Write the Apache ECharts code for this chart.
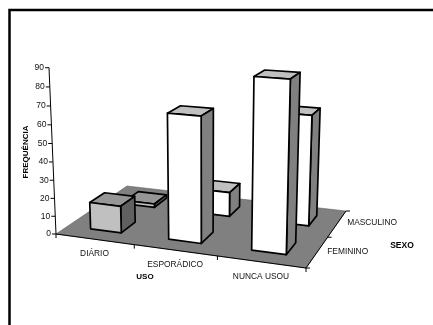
<!DOCTYPE html>
<html>
<head>
<meta charset="utf-8">
<style>html,body{margin:0;padding:0;background:#fff}#chart{width:433px;height:325px}</style>
<script src="https://cdn.jsdelivr.net/npm/echarts@6/dist/echarts.min.js"></script>
</head>
<body>
<div id="chart"></div>
<script>
// Frequency of use by sex, as a 3D column chart on a tilted floor.
const usoCategories = ['DIÁRIO', 'ESPORÁDICO', 'NUNCA USOU'];
const sexoCategories = ['FEMININO', 'MASCULINO'];
const feminino = [15, 68, 90];
const masculino = [2, 14, 62];
const frequencyTicks = [0, 10, 20, 30, 40, 50, 60, 70, 80, 90];

const FONT = '"Liberation Sans", Arial, sans-serif';
const BLACK = '#000';

// Camera: floor corners on screen and the vanishing point of the verticals.
const floorQuad = { fl: [56, 234], fr: [306, 268], br: [346, 211], bl: [127, 186] };
const vanish = [205, 3774];
const axisTop = [49, 68];

const homography = (function () {
  const [x0, y0] = floorQuad.fl, [x1, y1] = floorQuad.fr, [x2, y2] = floorQuad.br, [x3, y3] = floorQuad.bl;
  const dx1 = x1 - x2, dx2 = x3 - x2, sx = x0 - x1 + x2 - x3;
  const dy1 = y1 - y2, dy2 = y3 - y2, sy = y0 - y1 + y2 - y3;
  const den = dx1 * dy2 - dx2 * dy1;
  const g = (sx * dy2 - dx2 * sy) / den, h = (dx1 * sy - sx * dy1) / den;
  return { a: x1 - x0 + g * x1, b: x3 - x0 + h * x3, c: x0, d: y1 - y0 + g * y1, e: y3 - y0 + h * y3, f: y0, g, h };
})();
const heightGain = (axisTop[0] - floorQuad.fl[0]) / (vanish[0] - axisTop[0]);

// u: 0..1 along USO, v: 0..1 along SEXO, t: 0..1 along FREQUÊNCIA.
function project(u, v, t) {
  const H = homography, k = t * heightGain;
  const w = H.g * u + H.h * v + 1 + k;
  return [(H.a * u + H.b * v + H.c + k * vanish[0]) / w, (H.d * u + H.e * v + H.f + k * vanish[1]) / w];
}

// The hidden grid spans the frequency axis, so its scale gives the height fraction.
const GRID = { left: 60, top: 68, width: 240, height: 166 };
function heightFraction(api, value) {
  return (GRID.top + GRID.height - api.coord([0, value])[1]) / GRID.height;
}

function polygon(points, fill) {
  return {
    type: 'polygon',
    shape: { points },
    style: { fill, stroke: BLACK, lineWidth: 1.7, lineJoin: 'round' }
  };
}
function text(x, y, str, opts) {
  return {
    type: 'text',
    x, y,
    rotation: (opts && opts.rotation) || 0,
    style: Object.assign({
      text: str, fill: '#111', fontFamily: FONT, fontSize: 8.4,
      align: 'center', verticalAlign: 'middle'
    }, opts && opts.style)
  };
}
function tickLine(a, b) {
  return {
    type: 'line',
    shape: { x1: a[0], y1: a[1], x2: b[0], y2: b[1] },
    style: { stroke: BLACK, lineWidth: 1 }
  };
}

function renderFloor() {
  const corners = [project(0, 0, 0), project(1, 0, 0), project(1, 1, 0), project(0, 1, 0)];
  return {
    type: 'polygon',
    shape: { points: corners },
    style: { fill: '#808080', stroke: '#555', lineWidth: 0.5 }
  };
}

function renderAxes(params, api) {
  const kids = [];
  const nU = usoCategories.length, nV = sexoCategories.length;
  kids.push(tickLine(project(0, 0, 0), project(0, 0, 1)));
  frequencyTicks.forEach(function (tick) {
    const p = project(0, 0, heightFraction(api, tick));
    kids.push(tickLine([p[0] - 4, p[1]], p));
    kids.push(text(p[0] - 5, p[1], String(tick), { style: { align: 'right', fontSize: 8.5 } }));
  });
  kids.push(tickLine(project(0, 0, 0), project(1, 0, 0)));
  kids.push(tickLine(project(1, 0, 0), project(1, 1, 0)));
  for (let i = 0; i <= nU; i++) {
    const p = project(i / nU, 0, 0);
    kids.push(tickLine(p, [p[0], p[1] + 4]));
  }
  for (let j = 0; j <= nV; j++) {
    const p = project(1, j / nV, 0);
    kids.push(tickLine(p, [p[0] + 4, p[1]]));
  }
  usoCategories.forEach(function (name, i) {
    const p = project((i + 0.5) / nU, 0, 0);
    kids.push(text(p[0], p[1] + 14.5, name));
  });
  sexoCategories.forEach(function (name, j) {
    const p = project(1, (j + 0.5) / nV, 0);
    kids.push(text(p[0] + 10, p[1] - 0.5, name, { style: { align: 'left' } }));
  });
  const bold = { style: { fontWeight: 'bold', fill: BLACK, fontSize: 8 } };
  kids.push(text(145, 277, 'USO', bold));
  kids.push(text(402, 246, 'SEXO', { style: { fontWeight: 'bold', fill: BLACK, fontSize: 8.5 } }));
  kids.push(text(26, 152, 'FREQUÊNCIA', Object.assign({ rotation: Math.PI / 2 }, bold)));
  return { type: 'group', children: kids };
}

function renderBar(params, api) {
  const cat = api.value(0), row = api.value(1);
  const t = heightFraction(api, api.value(2));
  const nU = usoCategories.length, nV = sexoCategories.length;
  const u0 = (cat + 0.3) / nU, u1 = (cat + 0.7) / nU;
  const v0 = (row + 0.3) / nV, v1 = (row + 0.7) / nV;
  const dailyBand = cat === 0;
  const frontFill = dailyBand ? '#c0c0c0' : '#ffffff';
  const topFill = dailyBand ? '#969696' : '#c0c0c0';
  const sideFill = dailyBand ? '#606060' : '#808080';
  return {
    type: 'group',
    children: [
      polygon([project(u0, v0, t), project(u1, v0, t), project(u1, v1, t), project(u0, v1, t)], topFill),
      polygon([project(u1, v0, 0), project(u1, v1, 0), project(u1, v1, t), project(u1, v0, t)], sideFill),
      polygon([project(u0, v0, 0), project(u1, v0, 0), project(u1, v0, t), project(u0, v0, t)], frontFill)
    ]
  };
}

// Back row first so the front row paints over it.
const barData = [];
[masculino, feminino].forEach(function (values) {
  const row = values === feminino ? 0 : 1;
  values.forEach(function (value, cat) { barData.push([cat, row, value]); });
});

const chart = echarts.init(document.getElementById('chart'), null, { width: 433, height: 325 });
chart.setOption({
  animation: false,
  backgroundColor: '#fff',
  graphic: [{
    type: 'polyline',
    shape: { points: [[9.5, 325], [9.5, 10], [433, 10]] },
    style: { fill: 'none', stroke: BLACK, lineWidth: 2.5 }
  }],
  grid: GRID,
  xAxis: { type: 'category', data: usoCategories, show: false },
  yAxis: { type: 'value', min: 0, max: 90, interval: 10, show: false },
  series: [
    { type: 'custom', silent: true, clip: false, renderItem: renderFloor, data: [[0, 0]], z: 1 },
    { type: 'custom', silent: true, clip: false, renderItem: renderAxes, data: [[0, 0]], z: 2 },
    {
      type: 'custom', silent: true, clip: false, renderItem: renderBar, z: 3,
      encode: { x: 0, y: 2 }, data: barData
    }
  ]
});
</script>
</body>
</html>
